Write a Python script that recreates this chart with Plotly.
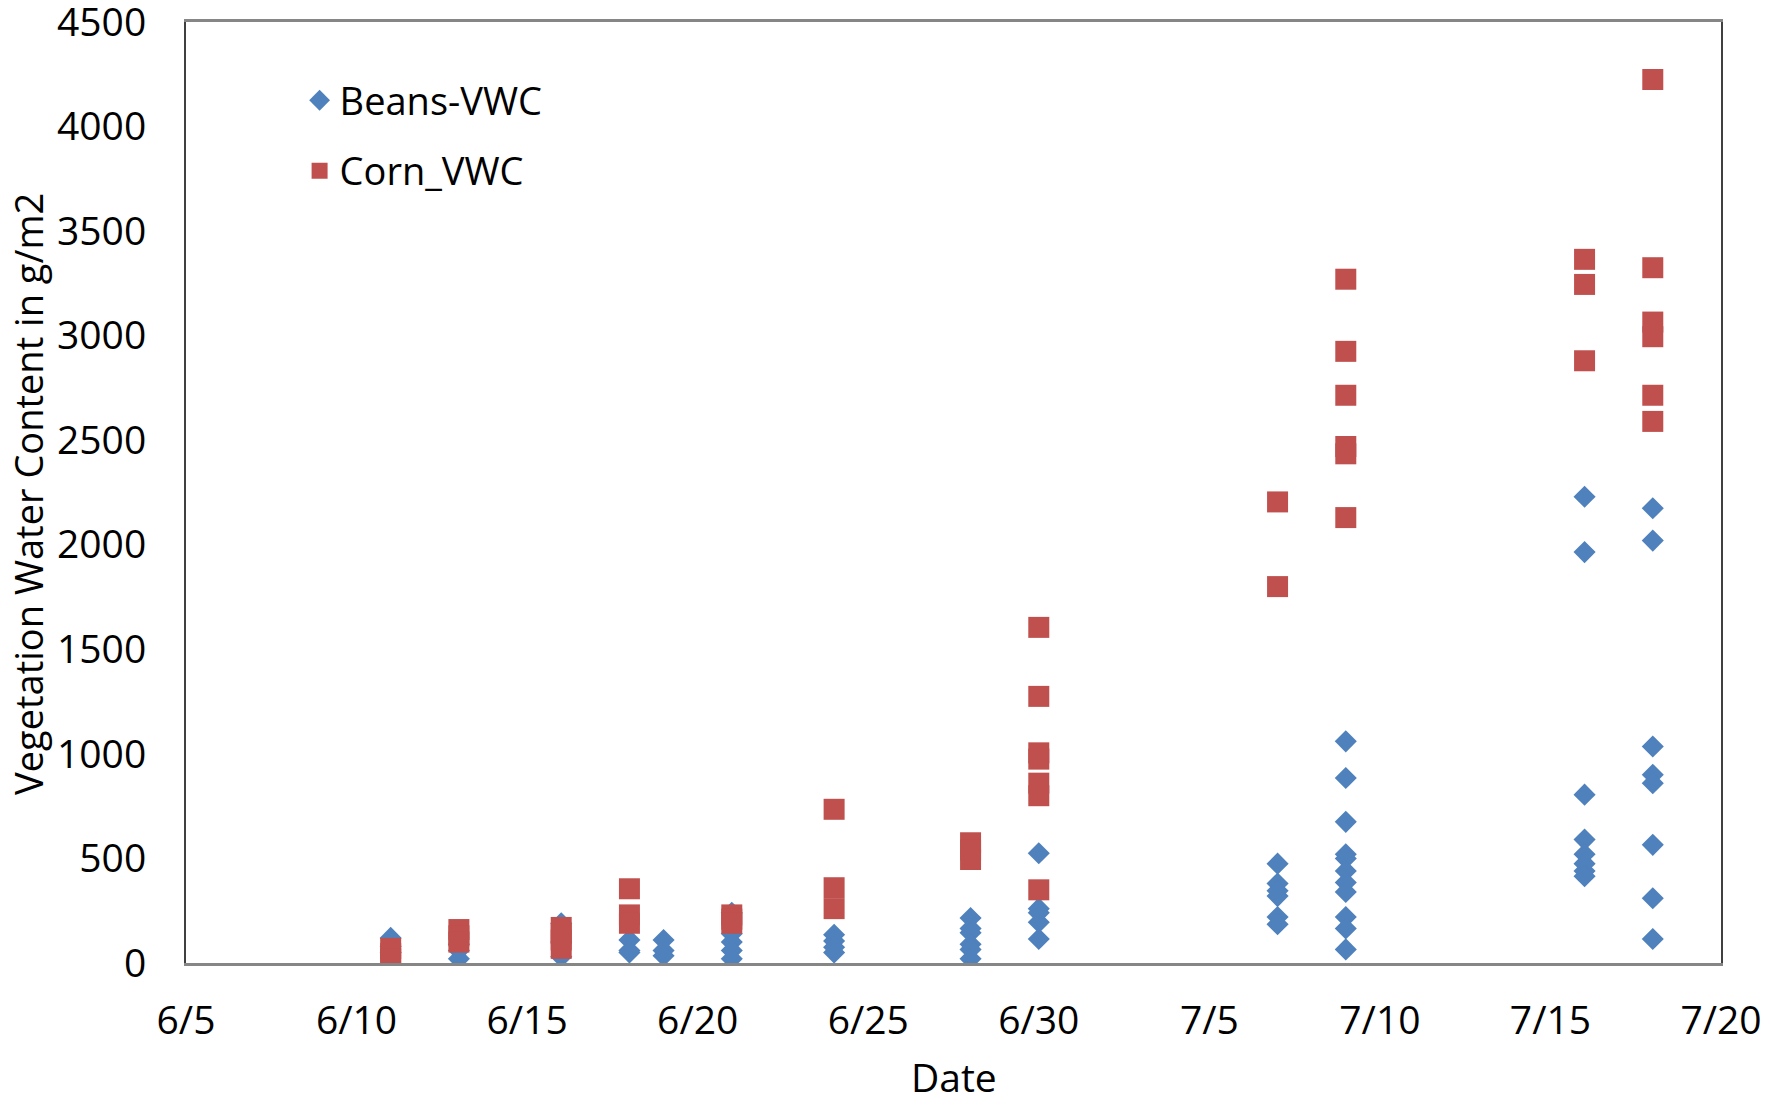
import plotly.graph_objects as go

# sampling dates and measured vegetation water content (g/m2) per date
dates = ["2013-06-11", "2013-06-13", "2013-06-16", "2013-06-18", "2013-06-19", "2013-06-21",
         "2013-06-24", "2013-06-28", "2013-06-30", "2013-07-07", "2013-07-09", "2013-07-16",
         "2013-07-18"]

beans_vwc = [
    [120, 80, 50],
    [90, 60, 20],
    [190, 100, 30],
    [110, 60, 50],
    [110, 60, 35],
    [240, 140, 100, 60, 20],
    [135, 105, 75, 50],
    [215, 165, 145, 90, 65, 20],
    [525, 260, 240, 195, 115],
    [475, 380, 345, 320, 220, 185],
    [1060, 885, 675, 520, 500, 440, 385, 340, 220, 165, 65],
    [2230, 1965, 805, 590, 520, 475, 440, 415],
    [2175, 2020, 1035, 900, 860, 565, 310, 115],
]

corn_vwc = [
    [70, 45, 20],
    [160, 130, 100],
    [170, 140, 110, 70],
    [355, 230, 190],
    [],
    [230, 210, 190],
    [735, 360, 260],
    [575, 540, 495],
    [1605, 1275, 1005, 975, 860, 800, 350],
    [2205, 1800],
    [3270, 2925, 2715, 2470, 2435, 2130],
    [3365, 3245, 2880],
    [4225, 3325, 3065, 2995, 2715, 2590],
]

BLUE = "#4F81BD"
RED = "#C0504D"
FONT = "Open Sans"


def flatten(values):
    xs, ys = [], []
    for d, vals in zip(dates, values):
        for v in vals:
            xs.append(d)
            ys.append(v)
    return xs, ys


bx, by = flatten(beans_vwc)
cx, cy = flatten(corn_vwc)

fig = go.Figure()
fig.add_trace(go.Scatter(x=bx, y=by, mode="markers", name="Beans-VWC", legendgroup="b",
                         marker=dict(symbol="diamond", size=17, color=BLUE)))
fig.add_trace(go.Scatter(x=cx, y=cy, mode="markers", name="Corn_VWC", legendgroup="c",
                         marker=dict(symbol="square", size=21, color=RED)))

# page body adds an 8px margin, so the figure is a bit smaller than the window
fig.update_layout(
    width=1778, height=1090,
    paper_bgcolor="white", plot_bgcolor="white",
    margin=dict(l=178, r=65, t=14, b=135),
    font=dict(family=FONT, size=39, color="black"),
    legend=dict(x=0.074, y=0.95, xanchor="left", yanchor="top",
                bgcolor="rgba(0,0,0,0)", font=dict(size=38),
                itemsizing="trace", tracegroupgap=18, itemwidth=30),
    showlegend=True,
)
fig.update_xaxes(
    type="date", range=["2013-06-05", "2013-07-20"],
    tick0="2013-06-05", dtick=5 * 86400000, tickformat="%-m/%-d",
    showgrid=False, zeroline=False, automargin=False,
    showline=True, linecolor="#868686", linewidth=3, mirror=True,
    ticks="", ticklabelstandoff=21, ticklabeloverflow="allow",
)
fig.update_yaxes(
    range=[0, 4500], dtick=500, showgrid=False, zeroline=False, automargin=False,
    showline=True, linecolor="#404040", linewidth=2, mirror=True,
    ticks="", ticklabelstandoff=30, ticklabeloverflow="allow",
)

# axis titles as annotations so they sit where the original has them
fig.add_annotation(text="Vegetation Water Content in g/m2", textangle=-90,
                   xref="paper", yref="paper", x=-0.1026, y=0.498,
                   xanchor="center", yanchor="middle", showarrow=False,
                   font=dict(size=38))
fig.add_annotation(text="Date", xref="paper", yref="paper", x=0.5, y=-0.121,
                   xanchor="center", yanchor="middle", showarrow=False,
                   font=dict(size=39))

fig.write_html("out.html")
